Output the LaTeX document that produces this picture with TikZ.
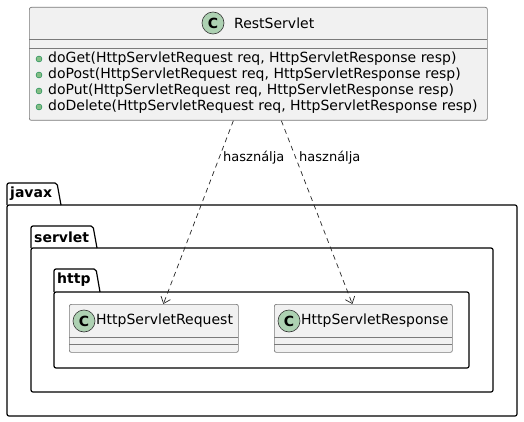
\documentclass[tikz,border=0pt]{standalone}
\usepackage{fontspec}
\setmainfont{DejaVu Sans}
\usetikzlibrary{arrows.meta}
\definecolor{boxfill}{HTML}{F1F1F1}
\definecolor{boxline}{HTML}{7A7A7A}
\definecolor{circfill}{HTML}{ADD1B2}
\definecolor{bulfill}{HTML}{84BE84}
\definecolor{bulline}{HTML}{038048}
\tikzset{
  cls/.style={draw=boxline, fill=boxfill, line width=0.7pt, rounded corners=2pt, inner sep=0pt},
  sepline/.style={draw=boxline, line width=0.7pt},
  circ/.style={circle, draw=black!80, fill=circfill, line width=0.6pt, minimum size=22pt, inner sep=0pt, font=\fontsize{14}{16}\selectfont\bfseries},
  bul/.style={circle, draw=bulline, fill=bulfill, line width=0.4pt, minimum size=6pt, inner sep=0pt},
  txt/.style={anchor=west, inner sep=0pt, font=\fontsize{14}{16}\selectfont},
  pkglabel/.style={anchor=west, inner sep=0pt, font=\fontsize{14}{16}\selectfont\bfseries},
  pkg/.style={draw=black, line width=1.2pt, rounded corners=2pt},
  dep/.style={draw=black!85, line width=0.7pt, dash pattern=on 5pt off 4pt, -{Straight Barb[length=6pt,width=10pt]}},
  lbl/.style={anchor=west, inner sep=0pt, font=\fontsize{13}{15}\selectfont}
}
\begin{document}
\begin{tikzpicture}[x=1pt,y=-1pt]
\useasboundingbox[fill=white] (0,0) rectangle (524,422);
% packages
\draw[pkg] (7,205) -- (7,183) -- (57,183) -- (61,205);
\draw[pkg] (7,205) rectangle (517,416);
\node[pkglabel] (pjavax) at (10,194) {javax};
\draw[pkg] (31,248) -- (31,226) -- (93,226) -- (97,248);
\draw[pkg] (31,248) rectangle (493,392);
\node[pkglabel] (pservlet) at (34,237) {servlet};
\draw[pkg] (54,292) -- (54,269) -- (96,269) -- (100,292);
\draw[pkg] (54,292) rectangle (469,368);
\node[pkglabel] (phttp) at (57,280) {http};
% RestServlet
\node[cls, minimum width=458pt, minimum height=113pt, anchor=north west] (rest) at (29,7) {};
\draw[sepline] (29,39) -- (487,39);
\draw[sepline] (29,48) -- (487,48);
\node[circ] (c1) at (213,23) {C};
\node[txt] (t1) at (234,23) {RestServlet};
\node[bul] (b1) at (39,59) {};
\node[txt] (m1) at (48,59) {doGet(HttpServletRequest req, HttpServletResponse resp)};
\node[bul] (b2) at (39,75) {};
\node[txt] (m2) at (48,75) {doPost(HttpServletRequest req, HttpServletResponse resp)};
\node[bul] (b3) at (39,91) {};
\node[txt] (m3) at (48,91) {doPut(HttpServletRequest req, HttpServletResponse resp)};
\node[bul] (b4) at (39,107) {};
\node[txt] (m4) at (48,107) {doDelete(HttpServletRequest req, HttpServletResponse resp)};
% HttpServletRequest
\node[cls, minimum width=169pt, minimum height=48pt, anchor=north west] (req) at (69,304) {};
\draw[sepline] (69,337) -- (238,337);
\draw[sepline] (69,344) -- (238,344);
\node[circ] (c2) at (84,321) {C};
\node[txt] (t2) at (96,321) {HttpServletRequest};
% HttpServletResponse
\node[cls, minimum width=178pt, minimum height=48pt, anchor=north west] (resp) at (274,304) {};
\draw[sepline] (274,337) -- (452,337);
\draw[sepline] (274,344) -- (452,344);
\node[circ] (c3) at (289,321) {C};
\node[txt] (t3) at (301,321) {HttpServletResponse};
% dependencies
\draw[dep] ([xshift=-25pt]rest.south) -- ([xshift=9.5pt]req.north);
\draw[dep] ([xshift=23pt]rest.south) -- ([xshift=-11pt]resp.north);
\node[lbl] (l1) at (223,158) {használja};
\node[lbl] (l2) at (299,158) {használja};
\end{tikzpicture}
\end{document}
